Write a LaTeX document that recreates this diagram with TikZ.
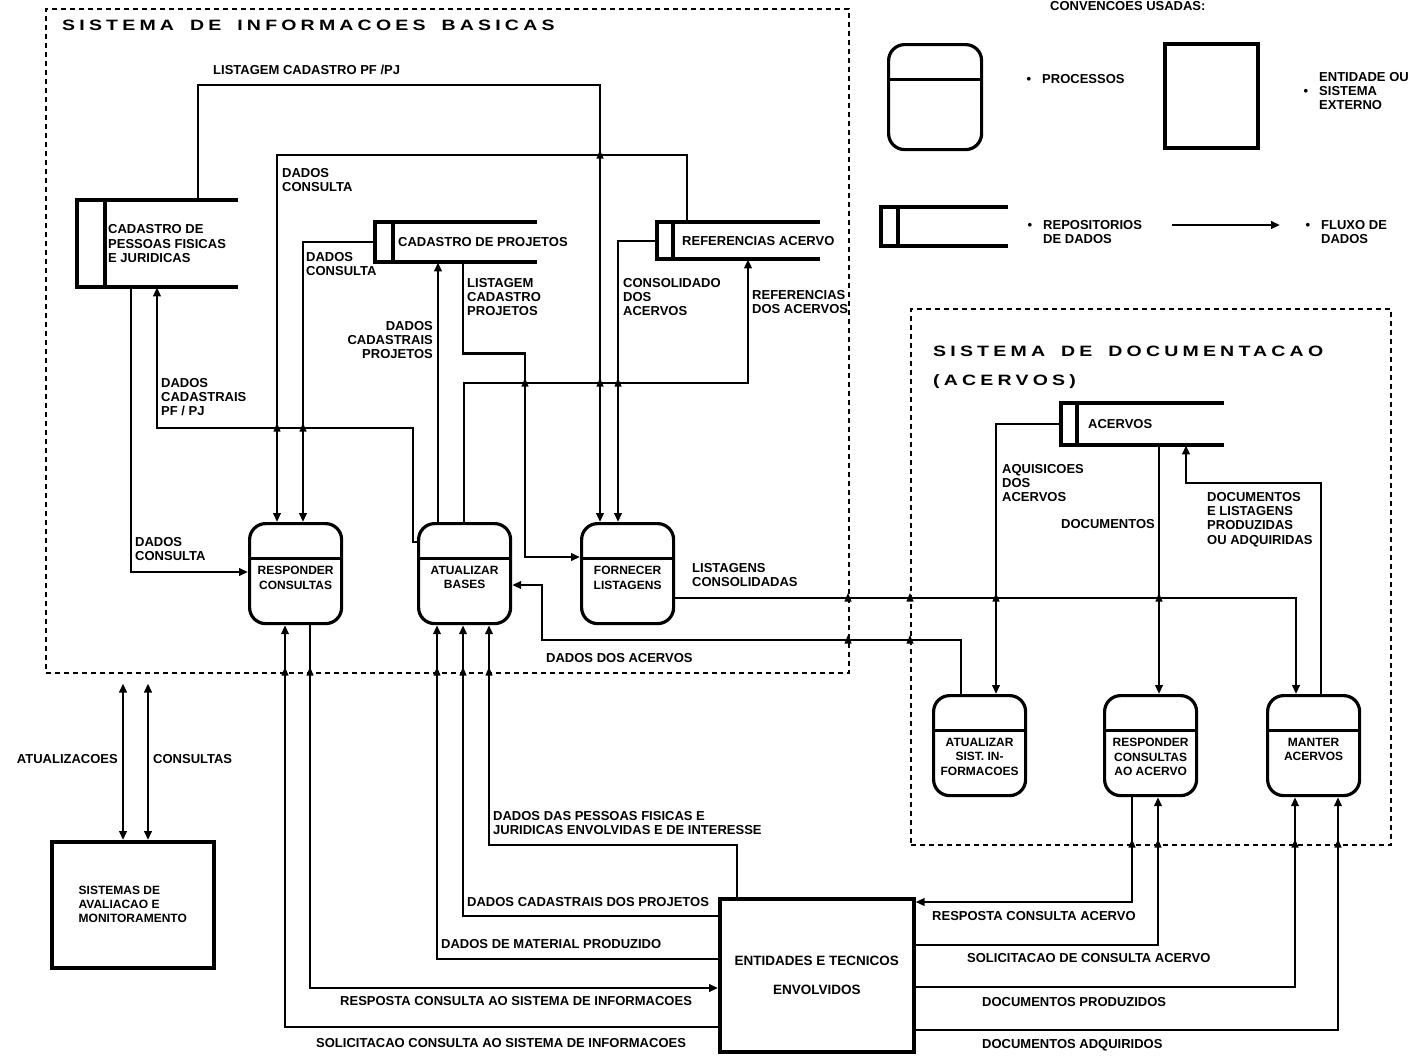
\documentclass[tikz,border=0pt]{standalone}
\usepackage{fontspec}
\setmainfont{Liberation Sans}
\newfontfamily\sysfont[FakeStretch=1.3, LetterSpace=28]{Liberation Sans}
\usetikzlibrary{arrows.meta}

\newcommand\labfont{\fontsize{13}{14.3}\selectfont\bfseries}
\newcommand\procfont{\fontsize{12}{14.5}\selectfont\bfseries}
\newcommand\entfont{\fontsize{13.5}{15}\selectfont\bfseries}
\newcommand\samfont{\fontsize{12}{14}\selectfont\bfseries}
\newcommand\sysfnt{\sysfont\fontsize{15}{29}\selectfont\bfseries}

\tikzset{
  xing/.pic={\fill (-3.6,3.5) -- (0,-5) -- (3.6,3.5) -- cycle;}
}

\begin{document}
\begin{tikzpicture}[
  x=1pt, y=-1pt,
  font=\labfont,
  sys/.style={draw, line width=1.5pt, dash pattern=on 5pt off 4pt, anchor=north west, inner sep=0pt},
  proc/.style={draw, line width=3.2pt, rounded corners=16pt, anchor=north west, inner sep=0pt,
    minimum width=92pt, minimum height=100pt,
    path picture={\draw[line width=3.2pt] ([yshift=-35pt]path picture bounding box.north west) -- ([yshift=-35pt]path picture bounding box.north east);}},
  ptxt/.style={anchor=north, yshift=-44pt, inner sep=0pt, font=\procfont, align=center},
  store/.style={anchor=north west, inner sep=0pt,
    append after command={\pgfextra{\begin{pgfinterruptpath}\draw[line width=4pt]
      (\tikzlastnode.north east) -- (\tikzlastnode.north west) -- (\tikzlastnode.south west) -- (\tikzlastnode.south east)
      ([xshift=#1]\tikzlastnode.north west) -- ([xshift=#1]\tikzlastnode.south west);\end{pgfinterruptpath}}}},
  stxt/.style={anchor=west, inner sep=0pt, align=left},
  ext/.style={draw, line width=3.6pt, anchor=north west, inner sep=0pt},
  lab/.style={anchor=north west, inner sep=0pt, align=left},
  labr/.style={anchor=north east, inner sep=0pt, align=right},
  ar/.style={-{Triangle[length=9pt,width=7.5pt]}, line width=2.2pt},
  ar2/.style={{Triangle[length=9pt,width=7.5pt]}-{Triangle[length=9pt,width=7.5pt]}, line width=2.2pt}
]
\useasboundingbox (0,0) rectangle (1415,1055);

\node[sys, minimum width=803pt, minimum height=664pt] (sys1) at (45,8) {};
\node[sys, minimum width=480pt, minimum height=536pt] (sys2) at (910,308) {};
\node[anchor=west, inner sep=0pt, font=\sysfnt] (t1) at (62,25) {SISTEMA\hspace{16pt}DE\hspace{16pt}INFORMACOES\hspace{16pt}BASICAS};
\node[anchor=north west, inner sep=0pt, font=\sysfnt, align=left] (t2) at (933,346) {SISTEMA\hspace{16pt}DE\hspace{16pt}DOCUMENTACAO\\(ACERVOS)};

\node[store=28pt, minimum width=161pt, minimum height=87pt, label={[stxt, xshift=31pt]west:CADASTRO DE\\PESSOAS FISICAS\\E JURIDICAS}] (pf) at (77,200) {};
\node[store=18pt, minimum width=162pt, minimum height=40pt, label={[stxt, xshift=23pt]west:CADASTRO DE PROJETOS}] (proj) at (375,222) {};
\node[store=16pt, minimum width=163pt, minimum height=37pt, label={[stxt, xshift=25pt]west:REFERENCIAS ACERVO}] (ref) at (657,222) {};
\node[store=16pt, minimum width=163pt, minimum height=42pt, label={[stxt, xshift=27pt]west:ACERVOS}] (acv) at (1061,403) {};

\node[proc, label={[ptxt]north:RESPONDER\\CONSULTAS}] (r1) at (248,522) {};
\node[proc, label={[ptxt]north:ATUALIZAR\\BASES}] (a1) at (417,522) {};
\node[proc, label={[ptxt]north:FORNECER\\LISTAGENS}] (f1) at (580,522) {};
\node[proc, label={[ptxt]north:ATUALIZAR\\SIST. IN-\\FORMACOES}] (a2) at (932,694) {};
\node[proc, label={[ptxt]north:RESPONDER\\CONSULTAS\\AO ACERVO}] (r2) at (1103,694) {};
\node[proc, label={[ptxt]north:MANTER\\ACERVOS}] (m2) at (1266,694) {};

\node[ext, minimum width=194pt, minimum height=153pt, font=\entfont, align=center] (ent) at (718,897) {ENTIDADES E TECNICOS\\[14pt]ENVOLVIDOS};
\node[ext, minimum width=162pt, minimum height=126pt, font=\samfont, align=left] (sam) at (50,840) {SISTEMAS DE\\AVALIACAO E\\MONITORAMENTO};

\node[anchor=base west, inner sep=0pt] (conv) at (1050,10) {CONVENCOES USADAS:};
\node[proc, minimum width=93pt, minimum height=105pt] (lp) at (887,43) {};
\node[lab] (lpt) at (1042,74) {\llap{•\hspace{11pt}}PROCESSOS};
\node[ext, minimum width=93pt, minimum height=104pt] (lx) at (1163,42) {};
\node[lab] (lxt) at (1319,72) {ENTIDADE OU\\\llap{•\hspace{11pt}}SISTEMA\\EXTERNO};
\node[store=17pt, minimum width=127pt, minimum height=39pt] (ls) at (881,207) {};
\node[lab] (lst) at (1043,220) {\llap{•\hspace{11pt}}REPOSITORIOS\\DE DADOS};
\coordinate (la) at (1172,225);
\coordinate (lb) at (1280,225);
\draw[ar] (la) -- (lb);
\node[lab] (lft) at (1321,220) {\llap{•\hspace{11pt}}FLUXO DE\\DADOS};

\draw[ar] ([xshift=121pt]pf.north west) -- ++(0,-115) -| ([xshift=20pt]f1.north west);
\draw[ar] ([xshift=30pt]ref.north west) -- ++(0,-67) -| ([xshift=29pt]r1.north west);
\draw[ar] (proj.west) -| ([xshift=55pt]r1.north west);
\draw[ar] ([yshift=-20pt]a1.north west) -- ++(-4,0) -- ++(0,-114) -| ([xshift=80pt]pf.south west);
\draw[ar] ([xshift=54pt]pf.south west) |- ([yshift=-50pt]r1.north west);
\draw[ar] ([xshift=21pt]a1.north west) -- ([xshift=63pt]proj.south west);
\draw[ar] ([xshift=88pt]proj.south west) -- ++(0,91) -- ++(62,0) |- ([yshift=-35pt]f1.north west);
\draw[ar] ([xshift=47pt]a1.north west) -- ++(0,-139) -| ([xshift=91pt]ref.south west);
\draw[ar] (ref.west) -| ([xshift=38pt]f1.north west);
\draw[ar] ([yshift=-76pt]f1.north east) -| ([xshift=30pt]m2.north west);
\draw[ar] ([xshift=29pt]a2.north west) -- ++(0,-54) -- ++(-419,0) |- ([yshift=-63pt]a1.north east);
\draw[ar] (acv.west) -| ([xshift=64pt]a2.north west);
\draw[ar] ([xshift=98pt]acv.south west) -- ([xshift=56pt]r2.north west);
\draw[ar] ([xshift=55pt]m2.north west) -- ++(0,-211) -| ([xshift=125pt]acv.south west);

\draw[ar2, shorten >=10pt] ([xshift=73pt]sam.north west) -- ([xshift=78pt]sys1.south west);
\draw[ar2, shorten >=10pt] ([xshift=98pt]sam.north west) -- ([xshift=103pt]sys1.south west);

\draw[ar] ([yshift=-130pt]ent.north west) -| ([xshift=37pt]r1.south west);
\draw[ar] ([xshift=62pt]r1.south west) |- ([yshift=-91pt]ent.north west);
\draw[ar] ([yshift=-62pt]ent.north west) -| ([xshift=20pt]a1.south west);
\draw[ar] ([yshift=-19pt]ent.north west) -| ([xshift=46pt]a1.south west);
\draw[ar] ([xshift=19pt]ent.north west) -- ++(0,-52) -| ([xshift=72pt]a1.south west);
\draw[ar] ([xshift=29pt]r2.south west) |- ([yshift=-5pt]ent.north east);
\draw[ar] ([yshift=-48pt]ent.north east) -| ([xshift=55pt]r2.south west);
\draw[ar] ([yshift=-90pt]ent.north east) -| ([xshift=29pt]m2.south west);
\draw[ar] ([yshift=-133pt]ent.north east) -| ([xshift=72pt]m2.south west);

\pic at (600,155) {xing};
\pic at (277,428) {xing};
\pic at (303,428) {xing};
\pic at (525,383) {xing};
\pic at (600,383) {xing};
\pic at (618,383) {xing};
\pic at (285,672) {xing};
\pic at (310,672) {xing};
\pic at (437,672) {xing};
\pic at (463,672) {xing};
\pic at (489,672) {xing};
\pic at (848,598) {xing};
\pic at (848,640) {xing};
\pic at (910,598) {xing};
\pic at (910,640) {xing};
\pic at (996,598) {xing};
\pic at (1159,598) {xing};
\pic at (1132,844) {xing};
\pic at (1158,844) {xing};
\pic at (1295,844) {xing};
\pic at (1338,844) {xing};

\node[lab] (l1) at (213,65) {LISTAGEM CADASTRO PF /PJ};
\node[lab] (l2) at (282,168) {DADOS\\CONSULTA};
\node[lab] (l3) at (306,252) {DADOS\\CONSULTA};
\node[lab] (l4) at (161,378) {DADOS\\CADASTRAIS\\PF / PJ};
\node[lab] (l5) at (135,537) {DADOS\\CONSULTA};
\node[labr] (l6) at (433,321) {DADOS\\CADASTRAIS\\PROJETOS};
\node[lab] (l7) at (467,278) {LISTAGEM\\CADASTRO\\PROJETOS};
\node[lab] (l8) at (752,290) {REFERENCIAS\\DOS ACERVOS};
\node[lab] (l9) at (623,278) {CONSOLIDADO\\DOS\\ACERVOS};
\node[lab] (l10) at (692,563) {LISTAGENS\\CONSOLIDADAS};
\node[lab] (l11) at (546,653) {DADOS DOS ACERVOS};
\node[lab] (l12) at (1002,464) {AQUISICOES\\DOS\\ACERVOS};
\node[labr] (l13) at (1155,519) {DOCUMENTOS};
\node[lab] (l14) at (1207,492) {DOCUMENTOS\\E LISTAGENS\\PRODUZIDAS\\OU ADQUIRIDAS};
\node[labr] (l15) at (118,754) {ATUALIZACOES};
\node[lab] (l16) at (153,754) {CONSULTAS};
\node[lab] (l17) at (316,1038) {SOLICITACAO CONSULTA AO SISTEMA DE INFORMACOES};
\node[lab] (l18) at (340,996) {RESPOSTA CONSULTA AO SISTEMA DE INFORMACOES};
\node[lab] (l19) at (441,939) {DADOS DE MATERIAL PRODUZIDO};
\node[lab] (l20) at (467,897) {DADOS CADASTRAIS DOS PROJETOS};
\node[lab] (l21) at (493,811) {DADOS DAS PESSOAS FISICAS E\\JURIDICAS ENVOLVIDAS E DE INTERESSE};
\node[lab] (l22) at (932,911) {RESPOSTA CONSULTA ACERVO};
\node[lab] (l23) at (967,953) {SOLICITACAO DE CONSULTA ACERVO};
\node[lab] (l24) at (982,997) {DOCUMENTOS PRODUZIDOS};
\node[lab] (l25) at (982,1039) {DOCUMENTOS ADQUIRIDOS};

\end{tikzpicture}
\end{document}
